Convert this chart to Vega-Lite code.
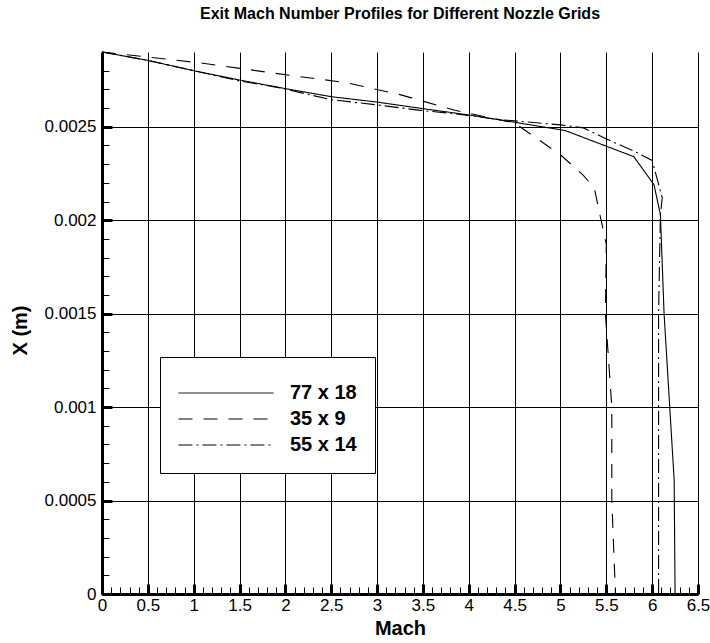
{
  "$schema": "https://vega.github.io/schema/vega-lite/v6.json",
  "width": 596,
  "height": 542,
  "autosize": "none",
  "padding": {"left": 102, "top": 52, "right": 12, "bottom": 49},
  "background": "white",
  "title": {
    "text": "Exit Mach Number Profiles for Different Nozzle Grids",
    "font": "Liberation Sans",
    "fontSize": 16,
    "fontWeight": "bold",
    "color": "#000000",
    "anchor": "middle",
    "baseline": "middle",
    "offset": 19
  },
  "config": {
    "view": {"stroke": null},
    "axis": {
      "domainColor": "#000000",
      "tickColor": "#000000",
      "gridColor": "#000000",
      "gridOpacity": 1,
      "labelColor": "#000000",
      "titleColor": "#000000",
      "labelFont": "Liberation Sans",
      "titleFont": "Liberation Sans",
      "labelFlush": false,
      "labelOverlap": false
    }
  },
  "data": {
    "values": [
      {"grid": "77 x 18", "i": 0, "mach": 0.0, "x": 0.0029},
      {"grid": "77 x 18", "i": 1, "mach": 0.5, "x": 0.002855},
      {"grid": "77 x 18", "i": 2, "mach": 1.0, "x": 0.0028},
      {"grid": "77 x 18", "i": 3, "mach": 1.5, "x": 0.00275},
      {"grid": "77 x 18", "i": 4, "mach": 2.0, "x": 0.002704},
      {"grid": "77 x 18", "i": 5, "mach": 2.5, "x": 0.002661},
      {"grid": "77 x 18", "i": 6, "mach": 3.0, "x": 0.002632},
      {"grid": "77 x 18", "i": 7, "mach": 3.5, "x": 0.002597},
      {"grid": "77 x 18", "i": 8, "mach": 4.0, "x": 0.002563},
      {"grid": "77 x 18", "i": 9, "mach": 4.3, "x": 0.00254},
      {"grid": "77 x 18", "i": 10, "mach": 5.05, "x": 0.00248},
      {"grid": "77 x 18", "i": 11, "mach": 5.8, "x": 0.00234},
      {"grid": "77 x 18", "i": 12, "mach": 6.02, "x": 0.00219},
      {"grid": "77 x 18", "i": 13, "mach": 6.09, "x": 0.00203},
      {"grid": "77 x 18", "i": 14, "mach": 6.13, "x": 0.0015},
      {"grid": "77 x 18", "i": 15, "mach": 6.24, "x": 0.00061},
      {"grid": "77 x 18", "i": 16, "mach": 6.25, "x": 0.0},
      {"grid": "35 x 9", "i": 0, "mach": 0.0, "x": 0.0029},
      {"grid": "35 x 9", "i": 1, "mach": 1.1, "x": 0.00284},
      {"grid": "35 x 9", "i": 2, "mach": 2.05, "x": 0.002775},
      {"grid": "35 x 9", "i": 3, "mach": 2.65, "x": 0.002737},
      {"grid": "35 x 9", "i": 4, "mach": 3.25, "x": 0.002672},
      {"grid": "35 x 9", "i": 5, "mach": 3.85, "x": 0.002588},
      {"grid": "35 x 9", "i": 6, "mach": 4.5, "x": 0.00252},
      {"grid": "35 x 9", "i": 7, "mach": 5.0, "x": 0.00235},
      {"grid": "35 x 9", "i": 8, "mach": 5.25, "x": 0.00224},
      {"grid": "35 x 9", "i": 9, "mach": 5.37, "x": 0.00217},
      {"grid": "35 x 9", "i": 10, "mach": 5.43, "x": 0.00203},
      {"grid": "35 x 9", "i": 11, "mach": 5.5, "x": 0.00187},
      {"grid": "35 x 9", "i": 12, "mach": 5.49, "x": 0.0015},
      {"grid": "35 x 9", "i": 13, "mach": 5.56, "x": 0.001},
      {"grid": "35 x 9", "i": 14, "mach": 5.56, "x": 0.0005},
      {"grid": "35 x 9", "i": 15, "mach": 5.6, "x": 0.0},
      {"grid": "55 x 14", "i": 0, "mach": 0.0, "x": 0.0029},
      {"grid": "55 x 14", "i": 1, "mach": 0.5, "x": 0.002855},
      {"grid": "55 x 14", "i": 2, "mach": 1.0, "x": 0.0028},
      {"grid": "55 x 14", "i": 3, "mach": 1.5, "x": 0.002745},
      {"grid": "55 x 14", "i": 4, "mach": 1.9, "x": 0.002712},
      {"grid": "55 x 14", "i": 5, "mach": 2.5, "x": 0.002645},
      {"grid": "55 x 14", "i": 6, "mach": 3.0, "x": 0.002617},
      {"grid": "55 x 14", "i": 7, "mach": 3.5, "x": 0.002586},
      {"grid": "55 x 14", "i": 8, "mach": 3.85, "x": 0.00257},
      {"grid": "55 x 14", "i": 9, "mach": 4.3, "x": 0.00254},
      {"grid": "55 x 14", "i": 10, "mach": 5.0, "x": 0.00251},
      {"grid": "55 x 14", "i": 11, "mach": 5.25, "x": 0.002494},
      {"grid": "55 x 14", "i": 12, "mach": 5.5, "x": 0.002435},
      {"grid": "55 x 14", "i": 13, "mach": 5.8, "x": 0.00237},
      {"grid": "55 x 14", "i": 14, "mach": 6.0, "x": 0.00232},
      {"grid": "55 x 14", "i": 15, "mach": 6.11, "x": 0.00212},
      {"grid": "55 x 14", "i": 16, "mach": 6.09, "x": 0.00203},
      {"grid": "55 x 14", "i": 17, "mach": 6.07, "x": 0.0015},
      {"grid": "55 x 14", "i": 18, "mach": 6.07, "x": 0.0}
    ]
  },
  "layer": [
    {
      "mark": {"type": "point", "opacity": 0},
      "encoding": {
        "x": {
          "field": "mach",
          "type": "quantitative",
          "scale": {"domain": [0, 6.5], "nice": false, "zero": false},
          "axis": {
            "orient": "bottom",
            "offset": -7,
            "values": [0.1, 0.2, 0.3, 0.4, 0.6, 0.7, 0.8, 0.9, 1.1, 1.2, 1.3, 1.4, 1.6, 1.7, 1.8, 1.9, 2.1, 2.2, 2.3, 2.4, 2.6, 2.7, 2.8, 2.9, 3.1, 3.2, 3.3, 3.4, 3.6, 3.7, 3.8, 3.9, 4.1, 4.2, 4.3, 4.4, 4.6, 4.7, 4.8, 4.9, 5.1, 5.2, 5.3, 5.4, 5.6, 5.7, 5.8, 5.9, 6.1, 6.2, 6.3, 6.4],
            "labels": false,
            "domain": false,
            "grid": false,
            "ticks": true,
            "tickSize": 7,
            "tickWidth": 1,
            "title": null
          }
        },
        "y": {
          "field": "x",
          "type": "quantitative",
          "scale": {"domain": [0, 0.0029], "nice": false},
          "axis": {
            "orient": "left",
            "offset": -7,
            "values": [0.0001, 0.0002, 0.0003, 0.0004, 0.0006, 0.0007, 0.0008, 0.0009, 0.0011, 0.0012, 0.0013, 0.0014, 0.0016, 0.0017, 0.0018, 0.0019, 0.0021, 0.0022, 0.0023, 0.0024, 0.0026, 0.0027, 0.0028, 0.0029],
            "labels": false,
            "domain": false,
            "grid": false,
            "ticks": true,
            "tickSize": 7,
            "tickWidth": 1,
            "title": null
          }
        }
      }
    },
    {
      "mark": {"type": "point", "opacity": 0},
      "encoding": {
        "x": {
          "field": "mach",
          "type": "quantitative",
          "scale": {"domain": [0, 6.5], "nice": false, "zero": false},
          "axis": {
            "orient": "bottom",
            "offset": -10,
            "values": [0, 0.5, 1, 1.5, 2, 2.5, 3, 3.5, 4, 4.5, 5, 5.5, 6, 6.5],
            "labels": false,
            "domain": false,
            "grid": false,
            "ticks": true,
            "tickSize": 10,
            "tickWidth": 3,
            "title": null
          }
        },
        "y": {
          "field": "x",
          "type": "quantitative",
          "scale": {"domain": [0, 0.0029], "nice": false},
          "axis": {
            "orient": "left",
            "offset": -10,
            "values": [0, 0.0005, 0.001, 0.0015, 0.002, 0.0025],
            "labels": false,
            "domain": false,
            "grid": false,
            "ticks": true,
            "tickSize": 10,
            "tickWidth": 3,
            "title": null
          }
        }
      }
    },
    {
      "mark": {"type": "line", "color": "#000000", "strokeWidth": 1.1},
      "encoding": {
        "x": {
          "field": "mach",
          "type": "quantitative",
          "scale": {"domain": [0, 6.5], "nice": false, "zero": false},
          "axis": {
            "orient": "bottom",
            "values": [0, 0.5, 1, 1.5, 2, 2.5, 3, 3.5, 4, 4.5, 5, 5.5, 6, 6.5],
            "format": "~g",
            "grid": true,
            "gridWidth": 1,
            "domainWidth": 3,
            "ticks": false,
            "labelFontSize": 17,
            "labelPadding": 3,
            "title": "Mach",
            "titleFontSize": 20,
            "titleFontWeight": "bold",
            "titleBaseline": "middle",
            "titleY": 34
          }
        },
        "y": {
          "field": "x",
          "type": "quantitative",
          "scale": {"domain": [0, 0.0029], "nice": false},
          "axis": {
            "orient": "left",
            "values": [0, 0.0005, 0.001, 0.0015, 0.002, 0.0025],
            "format": "~g",
            "grid": true,
            "gridWidth": 1,
            "domainWidth": 3,
            "ticks": false,
            "labelFontSize": 17,
            "labelPadding": 6,
            "title": "X (m)",
            "titleFontSize": 20,
            "titleFontWeight": "bold",
            "titleBaseline": "middle",
            "titleX": -82,
            "titleY": 278
          }
        },
        "order": {"field": "i", "type": "quantitative"},
        "strokeDash": {
          "field": "grid",
          "type": "nominal",
          "scale": {
            "domain": ["77 x 18", "35 x 9", "55 x 14"],
            "range": [[1, 0], [14, 11], [14, 4, 2, 4]]
          },
          "legend": {
            "orient": "none",
            "legendX": 58,
            "legendY": 305,
            "title": " ",
            "titleFontSize": 4,
            "titlePadding": 4,
            "fillColor": "#ffffff",
            "strokeColor": "#000000",
            "padding": 18,
            "symbolType": "M-1,0H9",
            "symbolSize": 361,
            "symbolStrokeColor": "#000000",
            "symbolStrokeWidth": 1,
            "labelFont": "Liberation Sans",
            "labelFontSize": 20,
            "labelFontWeight": "bold",
            "labelColor": "#000000",
            "labelOffset": 92,
            "rowPadding": 6
          }
        }
      }
    }
  ],
  "resolve": {"axis": {"x": "independent", "y": "independent"}}
}
